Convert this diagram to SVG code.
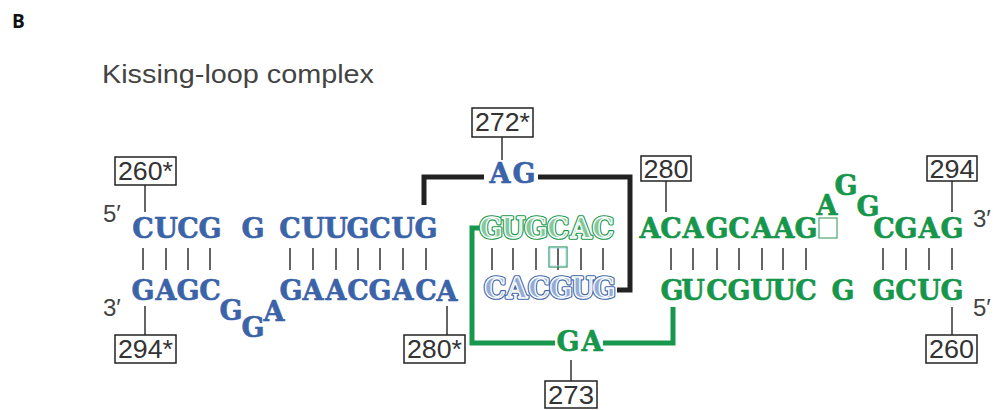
<svg xmlns="http://www.w3.org/2000/svg" width="995" height="410" viewBox="0 0 995 410">
<style>
.nt{font-family:"DejaVu Serif","Liberation Serif",serif;font-weight:bold;font-size:27px;text-anchor:middle}
.b{fill:#3b63a8;stroke:#3b63a8;stroke-width:0.6}
.g{fill:#16964b;stroke:#16964b;stroke-width:0.6}
.ob1{fill:none;stroke:#3b63a8;stroke-width:3.6;stroke-linejoin:round}
.ob2{fill:#95acd6;stroke:#fff;stroke-width:1.3;stroke-linejoin:round}
.og1{fill:none;stroke:#16964b;stroke-width:3.6;stroke-linejoin:round}
.og2{fill:#86c79c;stroke:#fff;stroke-width:1.3;stroke-linejoin:round}
.lbl{font-family:"Liberation Sans",Arial,sans-serif;font-size:25px;fill:#333;text-anchor:middle}
.box{fill:#fff;stroke:#222;stroke-width:1.5}
.tick{stroke:#333;stroke-width:1.5}
.end{font-family:"Liberation Sans",Arial,sans-serif;font-size:24px;fill:#444}
.pair{stroke:#333;stroke-width:1.5}
</style>
<rect width="995" height="410" fill="#fff"/>
<text x="12" y="28" font-family="Open Sans, Liberation Sans, sans-serif" font-weight="bold" font-size="19" fill="#111">B</text>
<text x="102" y="83" font-family="Liberation Sans, Arial, sans-serif" font-size="25" fill="#444" textLength="272" lengthAdjust="spacingAndGlyphs">Kissing-loop complex</text>

<g id="connectors">
<path d="M424,205 V177 H484 M538,177 H630 V290 H617" fill="none" stroke="#222" stroke-width="5"/>
<path d="M481,228 H472 V343 H555 M603,343 H673 V307" fill="none" stroke="#17984d" stroke-width="5"/>
</g>

<g id="pairs">
<path class="pair" d="M143,248V270M166,248V270M188,248V270M210,248V270M290,248V270M313,248V270M336,248V270M358,248V270M380,248V270M403,248V270M426,248V270M492,248V270M513,248V270M536,248V270M558,248V270M581,248V270M603,248V270M671,248V270M693,248V270M717,248V270M739,248V270M762,248V270M783,248V270M806,248V270M883,248V270M906,248V270M929,248V270M952,248V270"/>
<rect x="549" y="247" width="18" height="20" fill="none" stroke="#2a9a55" stroke-width="1.2"/>
<rect x="550" y="248" width="16" height="18" fill="none" stroke="#9fd3ea" stroke-width="0.8"/>
</g>

<g id="strand-blue">
<text class="nt b" x="143 166 188 210" y="238">CUCG</text>
<text class="nt b" x="253" y="238">G</text>
<text class="nt b" x="290 313 336 358 380 403 426" y="238">CUUGCUG</text>
<text class="nt b" x="143 166 188 210" y="300">GAGC</text>
<text class="nt b" x="231" y="320">G</text>
<text class="nt b" x="253" y="337">G</text>
<text class="nt b" x="274" y="321">A</text>
<text class="nt b" x="291 313 336 358 380 403 426" y="300">GAACGAC</text>
<text class="nt b" x="447" y="301" font-size="29" stroke-width="1">A</text>
<text class="nt b" x="500 524" y="183" font-size="28" stroke-width="1">AG</text>
<text class="nt ob1" x="495 517 539 561 583 604" y="298">CACGUG</text>
<text class="nt ob2" x="495 517 539 561 583 604" y="298">CACGUG</text>
</g>

<g id="strand-green">
<text class="nt og1" x="491 513 536 558 581 603" y="238">GUGCAC</text>
<text class="nt og2" x="491 513 536 558 581 603" y="238">GUGCAC</text>
<text class="nt g" x="650 671 693 717 739 762 784 806" y="238">ACAGCAAG</text>
<rect x="819" y="218" width="18" height="20" fill="none" stroke="#4aa86a" stroke-width="1.2"/>
<text class="nt g" x="827" y="215">A</text>
<text class="nt g" x="846" y="195">G</text>
<text class="nt g" x="868" y="216">G</text>
<text class="nt g" x="884 906 929 952" y="238">CGAG</text>
<text class="nt g" x="672 693 717 739 762 784 806" y="300">GUCGUUC</text>
<text class="nt g" x="843" y="300">G</text>
<text class="nt g" x="884 906 929 952" y="300">GCUG</text>
<text class="nt g" x="568 592" y="351">GA</text>
</g>

<g id="ends">
<text class="end" x="103" y="222">5′</text>
<text class="end" x="103" y="316">3′</text>
<text class="end" x="973" y="227">3′</text>
<text class="end" x="973" y="316">5′</text>
</g>

<g id="label-260s">
<line class="tick" x1="145" y1="185" x2="145" y2="212"/>
<rect class="box" x="115" y="157" width="61" height="28"/>
<text class="lbl" x="145.5" y="180" textLength="55" lengthAdjust="spacingAndGlyphs">260*</text>
</g>
<g id="label-294s">
<line class="tick" x1="145" y1="306" x2="145" y2="335"/>
<rect class="box" x="115" y="335" width="61" height="28"/>
<text class="lbl" x="145.5" y="358" textLength="55" lengthAdjust="spacingAndGlyphs">294*</text>
</g>
<g id="label-280s">
<line class="tick" x1="447" y1="306" x2="447" y2="335"/>
<rect class="box" x="404" y="335" width="61" height="28"/>
<text class="lbl" x="434.5" y="358" textLength="55" lengthAdjust="spacingAndGlyphs">280*</text>
</g>
<g id="label-272s">
<line class="tick" x1="502" y1="137" x2="502" y2="160"/>
<rect class="box" x="472" y="108" width="61" height="29"/>
<text class="lbl" x="502.5" y="131" textLength="55" lengthAdjust="spacingAndGlyphs">272*</text>
</g>
<g id="label-280">
<line class="tick" x1="666" y1="181" x2="666" y2="212"/>
<rect class="box" x="641" y="156" width="50" height="25"/>
<text class="lbl" x="666" y="178" textLength="45" lengthAdjust="spacingAndGlyphs">280</text>
</g>
<g id="label-294">
<line class="tick" x1="952" y1="181" x2="952" y2="212"/>
<rect class="box" x="927" y="156" width="50" height="25"/>
<text class="lbl" x="952" y="178" textLength="45" lengthAdjust="spacingAndGlyphs">294</text>
</g>
<g id="label-260">
<line class="tick" x1="952" y1="307" x2="952" y2="335"/>
<rect class="box" x="926" y="335" width="51" height="28"/>
<text class="lbl" x="951.5" y="358" textLength="45" lengthAdjust="spacingAndGlyphs">260</text>
</g>
<g id="label-273">
<line class="tick" x1="571" y1="360" x2="571" y2="381"/>
<rect class="box" x="545" y="381" width="52" height="27"/>
<text class="lbl" x="571" y="404" textLength="46" lengthAdjust="spacingAndGlyphs">273</text>
</g>
</svg>
